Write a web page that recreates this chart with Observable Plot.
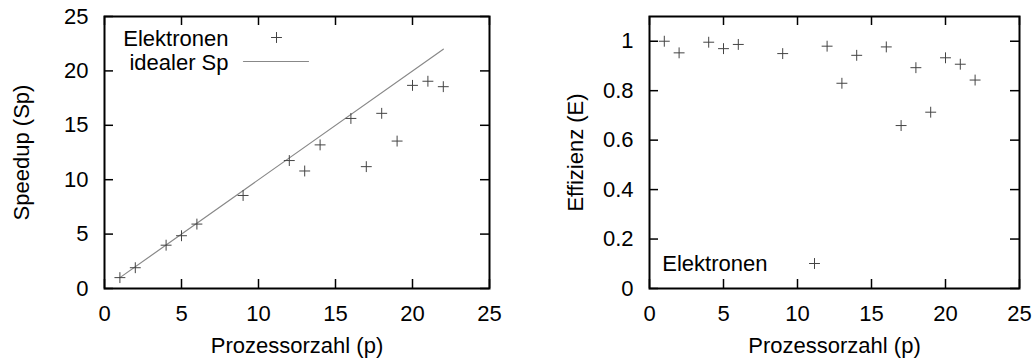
<!DOCTYPE html>
<html>
<head>
<meta charset="utf-8">
<script src="https://cdn.jsdelivr.net/npm/d3@7"></script>
<script src="https://cdn.jsdelivr.net/npm/@observablehq/plot@0.6"></script>
<style>
  html, body { margin: 0; padding: 0; background: white; }
  #row { display: flex; width: 1035px; height: 364px; }
</style>
</head>
<body>
<div id="row"></div>
<script>
// ---- data ----
const procs = [1, 2, 4, 5, 6, 9, 12, 13, 14, 16, 17, 18, 19, 20, 21, 22];
const speedup = [1.0, 1.91, 3.98, 4.85, 5.92, 8.55, 11.76, 10.8, 13.2, 15.63, 11.2, 16.1, 13.55, 18.67, 19.05, 18.55];
const efficiency = [1.0, 0.953, 0.996, 0.97, 0.987, 0.95, 0.98, 0.83, 0.943, 0.977, 0.659, 0.893, 0.713, 0.933, 0.907, 0.843];
const idealP = [1, 22];
const xTicks = [0, 5, 10, 15, 20, 25];
const speedupTicks = [0, 5, 10, 15, 20, 25];
const effTicks = [0, 0.2, 0.4, 0.6, 0.8, 1];
const xLabel = "Prozessorzahl (p)";
const speedupLabel = "Speedup (Sp)";
const effLabel = "Effizienz (E)";
const seriesName = "Elektronen";
const idealName = "idealer Sp";

// ---- build ----
const font = "'Liberation Sans', Arial, Helvetica, sans-serif";
const ptColor = "#444";
const lineShape = { draw(ctx, l) { ctx.moveTo(0, 0); ctx.lineTo(0, -l); } };
const fmt = d => String(d);

const speedupData = procs.map((p, i) => ({p, v: speedup[i]}));
const effData = procs.map((p, i) => ({p, v: efficiency[i]}));
const idealData = idealP.map(p => ({p, v: p}));
const xTickData = xTicks.map(t => ({t}));

function axes(yTicks, yLabel, yLabelOffset, xDom, yDom, fw, fh) {
  const t = 9;                                // tick length in pixels
  const ty = (yDom[1] - yDom[0]) * t / fh;    // same in y data units
  const tx = (xDom[1] - xDom[0]) * t / fw;    // same in x data units
  const yTickData = yTicks.map(v => ({v}));
  const s = {stroke: "black", strokeWidth: 1.5};
  return [
    // inward ticks, mirrored on all four sides (gnuplot style)
    Plot.ruleX(xTickData, {x: "t", y1: yDom[0], y2: yDom[0] + ty, ...s}),
    Plot.ruleX(xTickData, {x: "t", y1: yDom[1] - ty, y2: yDom[1], ...s}),
    Plot.ruleY(yTickData, {y: "v", x1: xDom[0], x2: xDom[0] + tx, ...s}),
    Plot.ruleY(yTickData, {y: "v", x1: xDom[1] - tx, x2: xDom[1], ...s}),
    Plot.axisX({ticks: xTicks, tickSize: 0, tickPadding: 17, tickFormat: fmt, label: xLabel, labelAnchor: "center", labelOffset: 64, labelArrow: "none"}),
    Plot.axisY({ticks: yTicks, tickSize: 0, tickPadding: 16, tickFormat: fmt, label: yLabel, labelAnchor: "center", labelOffset: yLabelOffset, labelArrow: "none"}),
    Plot.frame({stroke: "black", strokeWidth: 2})
  ];
}

const xDomain = [0, 25];
const ySpeedDomain = [0, 25];
const yEffDomain = [0, 1.1];

const left = Plot.plot({
  width: 517, height: 364,
  marginLeft: 104, marginRight: 28, marginTop: 16, marginBottom: 76,
  style: {fontFamily: font, fontSize: "22px", color: "black", background: "white", overflow: "visible"},
  x: {domain: xDomain},
  y: {domain: ySpeedDomain},
  marks: [
    Plot.line(idealData, {x: "p", y: "v", stroke: "#888", strokeWidth: 1.2}),
    Plot.dot(speedupData, {x: "p", y: "v", symbol: "plus", r: 3.6, stroke: ptColor, strokeWidth: 1}),
    ...axes(speedupTicks, speedupLabel, 91, xDomain, ySpeedDomain, 385, 272),
    Plot.text([seriesName], {text: d => d, frameAnchor: "top-left", dx: 124, dy: 22, textAnchor: "end", lineAnchor: "middle", fill: "black"}),
    Plot.text([idealName], {text: d => d, frameAnchor: "top-left", dx: 124, dy: 46, textAnchor: "end", lineAnchor: "middle", fill: "black"}),
    Plot.dot([seriesName], {frameAnchor: "top-left", dx: 172, dy: 21, symbol: "plus", r: 3.6, stroke: ptColor, strokeWidth: 1}),
    Plot.vector([idealName], {frameAnchor: "top-left", dx: 139, dy: 45, length: 65, rotate: 90, anchor: "start", shape: lineShape, stroke: "#888", strokeWidth: 1.2})
  ]
});

const right = Plot.plot({
  width: 518, height: 364,
  marginLeft: 132, marginRight: 16, marginTop: 16, marginBottom: 76,
  style: {fontFamily: font, fontSize: "22px", color: "black", background: "white", overflow: "visible"},
  x: {domain: xDomain},
  y: {domain: yEffDomain},
  marks: [
    Plot.dot(effData, {x: "p", y: "v", symbol: "plus", r: 3.6, stroke: ptColor, strokeWidth: 1}),
    ...axes(effTicks, effLabel, 82, xDomain, yEffDomain, 370, 272),
    Plot.text([seriesName], {text: d => d, frameAnchor: "bottom-left", dx: 118, dy: -25, textAnchor: "end", lineAnchor: "middle", fill: "black"}),
    Plot.dot([seriesName], {frameAnchor: "bottom-left", dx: 165, dy: -25, symbol: "plus", r: 3.6, stroke: ptColor, strokeWidth: 1})
  ]
});

document.getElementById("row").append(left, right);
</script>
</body>
</html>
